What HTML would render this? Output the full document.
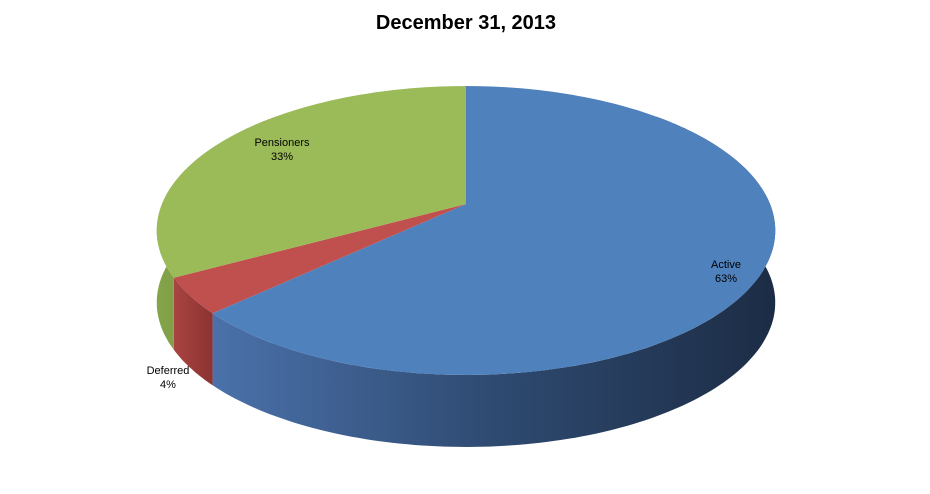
<!DOCTYPE html>
<html><head><meta charset="utf-8"><style>
body{margin:0;background:#fff;}
svg{display:block;font-family:"Liberation Sans",Arial,sans-serif;}
</style></head><body>
<svg id="chart" width="930" height="494">
<defs>
<linearGradient id="gA" gradientUnits="userSpaceOnUse" x1="200" x2="775" y1="0" y2="0">
<stop offset="0" stop-color="#4c73ad"/><stop offset="0.5" stop-color="#2f4b72"/><stop offset="1" stop-color="#1c2c45"/>
</linearGradient>
<linearGradient id="gD" x1="0" x2="1"><stop offset="0" stop-color="#a94442"/><stop offset="1" stop-color="#8c3331"/></linearGradient>
<linearGradient id="gP" x1="0" x2="1"><stop offset="0" stop-color="#84a44a"/><stop offset="1" stop-color="#6d8a3a"/></linearGradient>
</defs>
<text x="466" y="29" text-anchor="middle" font-size="20" font-weight="bold" fill="#000">December 31, 2013</text>
<g id="sides"></g><g id="tops"></g><g id="labels"></g>
</svg>
<script>
const categories=["Active","Deferred","Pensioners"];
const values=[63,4,33];
const labelTexts=["63%","4%","33%"];
const cx=466,cy=204,B=304,A=139.6,P=-0.1834,depth=72;
const topColors=["#4f81bd","#c0504d","#9bbb59"];
const sideFills=["url(#gA)","url(#gD)","url(#gP)"];
const labelPos=[[726,268],[168,374],[282,146]];
const NS="http://www.w3.org/2000/svg";
function pt(t,dy){const u=Math.sin(t),v=-Math.cos(t),d=1+P*v;return [cx+B*u/d,cy+A*v/d+(dy||0)];}
function samples(a,b,dy){const n=Math.max(4,Math.ceil((b-a)/0.02));const r=[];for(let k=0;k<=n;k++){r.push(pt(a+(b-a)*k/n,dy));}return r;}
const total=values.reduce((s,v)=>s+v,0);
let start=0;
const sides=document.getElementById('sides'),tops=document.getElementById('tops'),labels=document.getElementById('labels');
values.forEach((v,i)=>{
  const a=start/total*2*Math.PI, b=(start+v)/total*2*Math.PI; start+=v;
  const s=Math.max(a,Math.PI/4), e=Math.min(b,7*Math.PI/4);
  if(e>s){
    const topE=samples(s,e,0), botE=samples(s,e,depth).reverse();
    const side=document.createElementNS(NS,'path');
    side.setAttribute('d','M'+topE.concat(botE).map(p=>p[0].toFixed(1)+','+p[1].toFixed(1)).join(' L')+' Z');
    side.setAttribute('fill',sideFills[i]);
    
    
    sides.appendChild(side);
  }
  const edge=samples(a,b,0);
  const top=document.createElementNS(NS,'path');
  top.setAttribute('d',`M${cx},${cy} L`+edge.map(p=>p[0].toFixed(1)+','+p[1].toFixed(1)).join(' L')+' Z');
  top.setAttribute('fill',topColors[i]);
  
  
  tops.appendChild(top);
  const t=document.createElementNS(NS,'text');
  t.setAttribute('x',labelPos[i][0]);t.setAttribute('y',labelPos[i][1]);
  t.setAttribute('text-anchor','middle');t.setAttribute('font-size','11');
  
  
  const s1=document.createElementNS(NS,'tspan');s1.setAttribute('x',labelPos[i][0]);s1.textContent=categories[i];
  const s2=document.createElementNS(NS,'tspan');s2.setAttribute('x',labelPos[i][0]);s2.setAttribute('dy','14');s2.textContent=labelTexts[i];
  t.appendChild(s1);t.appendChild(s2);labels.appendChild(t);
});
</script>
</body></html>
